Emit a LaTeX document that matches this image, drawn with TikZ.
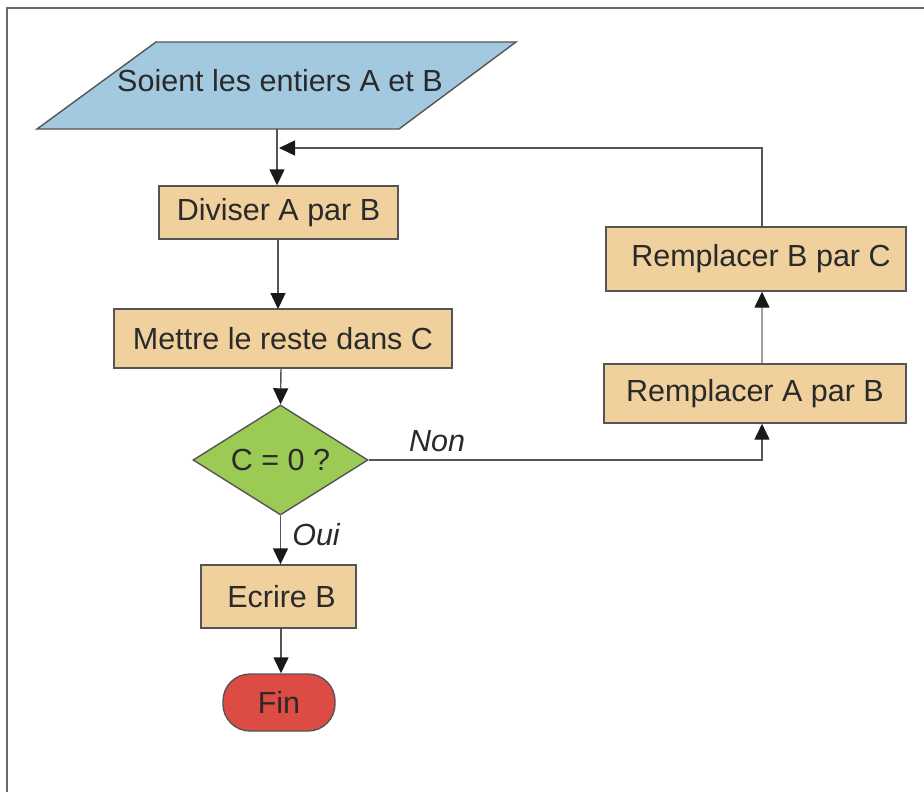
\documentclass[tikz,border=0pt]{standalone}
\usepackage{fontspec}
\setmainfont{Liberation Sans}
\usetikzlibrary{shapes.geometric,arrows.meta}
\definecolor{bluefill}{HTML}{A3C9E0}
\definecolor{tanfill}{HTML}{F0D19E}
\definecolor{greenfill}{HTML}{9BCB55}
\definecolor{redfill}{HTML}{DD4B45}
\definecolor{edgecol}{HTML}{555555}
\definecolor{txtcol}{HTML}{2A2A2A}
\definecolor{framecol}{HTML}{6A6A6A}
\begin{document}
\begin{tikzpicture}[x=1pt,y=-1pt,
  every node/.style={text=txtcol,font=\fontsize{30.5}{33}\selectfont},
  proc/.style={rectangle,draw=edgecol,fill=tanfill,line width=1.4pt,inner sep=0pt},
  dec/.style={diamond,draw=edgecol,fill=greenfill,line width=1.4pt,inner sep=0pt,aspect=1.6,minimum width=175pt,minimum height=110pt},
  term/.style={rectangle,rounded corners=27pt,draw=edgecol,fill=redfill,line width=1.4pt,inner sep=0pt,minimum width=112pt,minimum height=57pt},
  conn/.style={draw=edgecol,line width=1.4pt,-{Triangle[length=16pt,width=15pt,color=black!90]}},
  lbl/.style={font=\fontsize{30.5}{33}\selectfont\itshape}
]
\useasboundingbox (0,0) rectangle (924,792);
\fill[white] (0,0) rectangle (924,792);
\draw[framecol,line width=2pt] (7,792) -- (7,8) -- (924,8);

% input parallelogram
\draw[edgecol,fill=bluefill,line width=1.4pt] (156,42) -- (516,42) -- (399,129) -- (37,129) -- cycle;
\node (start) at (280,81) {Soient les entiers A et B};
\coordinate (pb) at (277,129);
\coordinate (join) at (279,148);
\coordinate (rx) at (762,0);

\node[proc,minimum width=239pt,minimum height=53pt] (div) at (278.5,212.5) {Diviser A par B};
\node[proc,minimum width=338pt,minimum height=59pt] (met) at (283,338.5) {Mettre le reste dans C};
\node[dec] (dec) at (280.5,460) {C = 0 ?};
\node[proc,minimum width=155pt,minimum height=63pt] (ecr) at (278.5,596.5) {\hspace*{6pt}Ecrire B};
\node[term] (fin) at (279,702.5) {Fin};
\node[proc,minimum width=300pt,minimum height=64pt] (rbc) at (756,259) {\hspace*{10pt}Remplacer B par C};
\node[proc,minimum width=302pt,minimum height=59pt] (rab) at (755,393.5) {Remplacer A par B};

\node[lbl] (non) at (437,441) {Non};
\node[lbl] (oui) at (316,535) {Oui};

% connectors
\draw[conn] (pb) -- (pb |- div.north);
\draw[conn] (rx |- rbc.north) |- (join);
\draw[conn] (278,239) -- (278,309);
\draw[conn] (281,368) -- (dec.north);
\draw[conn] (dec.south) -- (dec.south |- ecr.north);
\draw[conn] (281,628) -- (fin.north -| 281,0);
\draw[conn] (dec.east) -| (rx |- rab.south);
\draw[conn,draw=gray!75] (rx |- rab.north) -- (rx |- rbc.south);
\end{tikzpicture}
\end{document}
